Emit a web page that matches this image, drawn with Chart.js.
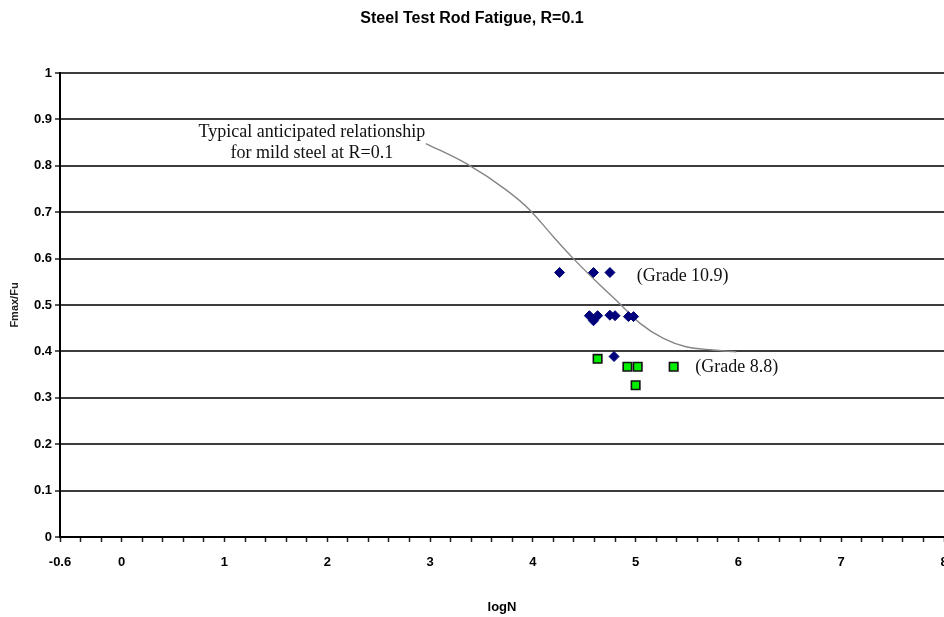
<!DOCTYPE html>
<html>
<head>
<meta charset="utf-8">
<script src="https://cdn.jsdelivr.net/npm/chart.js@4/dist/chart.umd.min.js"></script>
<style>
  html, body { margin: 0; padding: 0; background: #fff; }
  #wrap { width: 944px; height: 617px; }
</style>
</head>
<body>
<div id="wrap"><canvas id="c" width="944" height="617"></canvas></div>
<script>
// ---- Data ----
const grade109X = [4.26, 4.59, 4.75, 4.55, 4.63, 4.59, 4.75, 4.80, 4.93, 4.98, 4.79];
const grade109Y = [0.570, 0.570, 0.570, 0.477, 0.477, 0.466, 0.478, 0.477, 0.475, 0.475, 0.389];

const grade88X = [4.63, 4.92, 5.02, 5.00, 5.37];
const grade88Y = [0.384, 0.367, 0.367, 0.327, 0.367];

const curveX = [2.96, 3.35, 3.74, 3.97, 4.20, 4.39, 4.62, 4.84, 5.04, 5.27, 5.49, 5.75, 5.98];
const curveY = [0.848, 0.805, 0.748, 0.705, 0.647, 0.601, 0.550, 0.504, 0.461, 0.428, 0.410, 0.403, 0.399];

const xMajorLabels = ['-0.6', '0', '1', '2', '3', '4', '5', '6', '7', '8'];
const yTickLabels = ['0', '0.1', '0.2', '0.3', '0.4', '0.5', '0.6', '0.7', '0.8', '0.9', '1'];

const titleText = 'Steel Test Rod Fatigue, R=0.1';
const xTitle = 'logN';
const yTitle = 'Fmax/Fu';
const curveNote = ['Typical anticipated relationship', 'for mild steel at R=0.1'];
const grade109Note = '(Grade 10.9)';
const grade88Note = '(Grade 8.8)';

const toPts = (xs, ys) => xs.map((x, i) => ({ x: x, y: ys[i] }));

// annotation plugin (text placed through the chart scales)
const notes = {
  id: 'notes',
  afterDatasetsDraw(chart) {
    const { ctx, scales: { x, y } } = chart;
    ctx.save();
    ctx.fillStyle = '#111';
    ctx.font = '18px "Liberation Serif", "Times New Roman", serif';
    ctx.textBaseline = 'middle';
    ctx.textAlign = 'center';
    ctx.fillText(curveNote[0], x.getPixelForValue(1.85), y.getPixelForValue(0.873));
    ctx.fillText(curveNote[1], x.getPixelForValue(1.85), y.getPixelForValue(0.828));
    ctx.textAlign = 'left';
    ctx.fillText(grade109Note, x.getPixelForValue(5.01), y.getPixelForValue(0.5625));
    ctx.fillText(grade88Note, x.getPixelForValue(5.58), y.getPixelForValue(0.366));
    ctx.restore();
  }
};

const tickFont = { family: '"Liberation Sans", Arial, sans-serif', size: 13, weight: 'bold' };

new Chart(document.getElementById('c'), {
  type: 'scatter',
  data: {
    datasets: [
      {
        label: 'curve',
        data: toPts(curveX, curveY),
        showLine: true,
        pointRadius: 0,
        borderColor: '#858585',
        borderWidth: 1.4,
        cubicInterpolationMode: 'monotone',
        order: 3
      },
      {
        label: 'Grade 10.9',
        data: toPts(grade109X, grade109Y),
        pointStyle: 'rectRot',
        pointRadius: 5,
        backgroundColor: '#00007a',
        borderColor: '#00007a',
        borderWidth: 1,
        order: 2
      },
      {
        label: 'Grade 8.8',
        data: toPts(grade88X, grade88Y),
        pointStyle: 'rect',
        pointRadius: 6,
        backgroundColor: '#00ee00',
        borderColor: '#111',
        borderWidth: 1.6,
        order: 1
      }
    ]
  },
  options: {
    responsive: false,
    animation: false,
    layout: { padding: 0, autoPadding: false },
    plugins: {
      legend: { display: false },
      tooltip: { enabled: false },
      title: {
        display: true,
        text: titleText,
        color: '#000',
        font: { family: '"Liberation Sans", Arial, sans-serif', size: 16, weight: 'bold' },
        padding: { top: 9, bottom: 44.8 }
      }
    },
    scales: {
      x: {
        type: 'linear',
        min: -0.6,
        max: 8,
        afterBuildTicks(scale) {
          const t = [];
          for (let i = 0; i <= 43; i++) t.push({ value: Math.round((-0.6 + 0.2 * i) * 10) / 10 });
          scale.ticks = t;
        },
        afterFit(scale) { scale.height = 80; scale.paddingLeft = 0; scale.paddingRight = 0; },
        ticks: {
          autoSkip: false,
          maxRotation: 0,
          padding: 13,
          color: '#000',
          font: tickFont,
          callback(v) {
            const s = (Math.round(v * 10) / 10).toString();
            return xMajorLabels.includes(s) ? s : '';
          }
        },
        grid: {
          display: true,
          drawOnChartArea: false,
          drawTicks: true,
          tickLength: 5,
          tickColor: '#222',
          tickWidth: 1.5
        },
        border: { display: true, color: '#000', width: 2 },
        title: {
          display: true,
          text: xTitle,
          color: '#000',
          font: { family: '"Liberation Sans", Arial, sans-serif', size: 13, weight: 'bold' },
          padding: { top: 2, bottom: 2 }
        }
      },
      y: {
        type: 'linear',
        min: 0,
        max: 1,
        afterBuildTicks(scale) {
          scale.ticks = yTickLabels.map(s => ({ value: parseFloat(s) }));
        },
        afterFit(scale) { scale.width = 60; scale.paddingTop = 0; scale.paddingBottom = 0; },
        ticks: {
          padding: 3,
          color: '#000',
          font: tickFont,
          callback(v) {
            return (Math.round(v * 10) / 10).toString();
          }
        },
        grid: {
          color: '#3c3c3c',
          lineWidth: 2,
          drawTicks: true,
          tickLength: 5,
          tickColor: '#222',
          tickWidth: 1.5
        },
        border: { display: true, color: '#000', width: 2 },
        title: {
          display: true,
          text: yTitle,
          color: '#222',
          font: { family: '"Liberation Sans", Arial, sans-serif', size: 11, weight: 'bold' },
          padding: { top: 8, bottom: 0 }
        }
      }
    }
  },
  plugins: [notes]
});
</script>
</body>
</html>
